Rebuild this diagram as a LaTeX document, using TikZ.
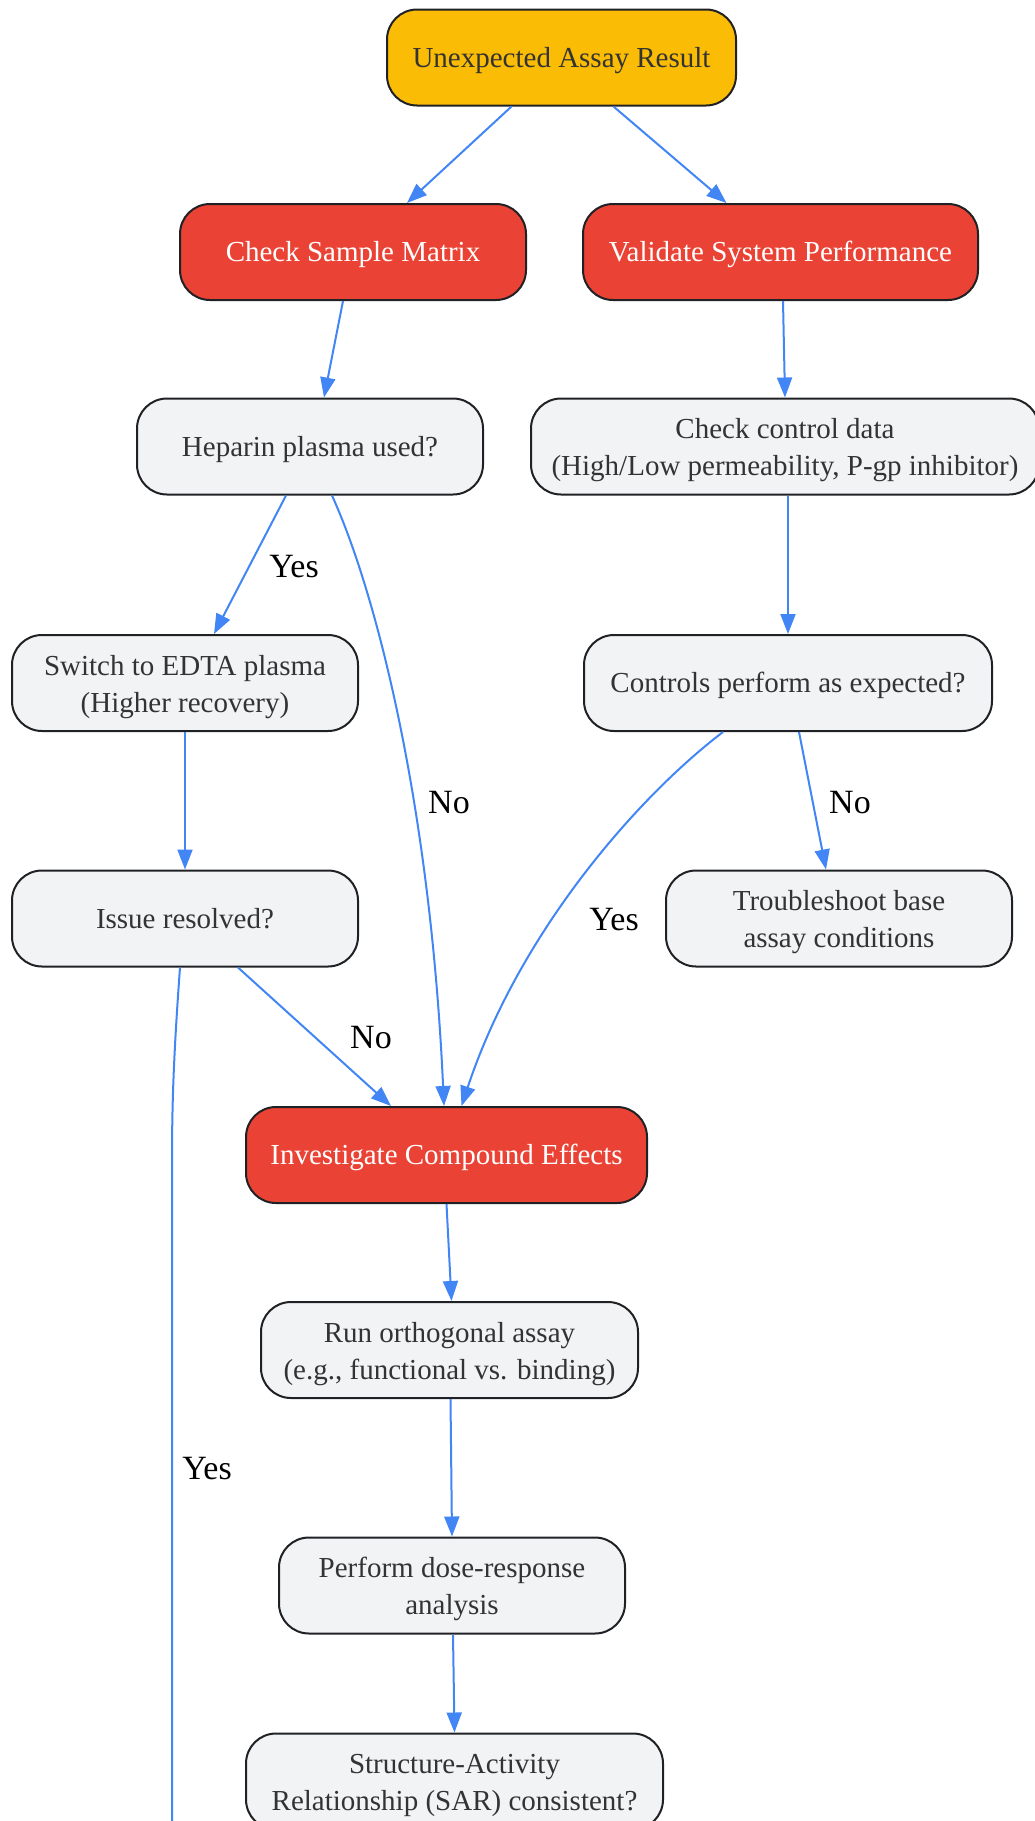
\documentclass[tikz,border=0pt]{standalone}
\usepackage{fontspec}
\setmainfont{Liberation Serif}
\usetikzlibrary{arrows.meta,positioning}
\definecolor{gyellow}{HTML}{FBBC05}
\definecolor{gred}{HTML}{EA4335}
\definecolor{ggrey}{HTML}{F1F3F4}
\definecolor{gblue}{HTML}{4285F4}
\definecolor{gline}{HTML}{202124}
\definecolor{gtext}{HTML}{333333}
\tikzset{
basebox/.style={
    rectangle,
    draw=gline,
    line width=2pt,
    rounded corners=30pt,
    minimum width=346pt,
    minimum height=96pt,
    align=center,
    font=\fontsize{29}{37}\selectfont,
    execute at begin node={\rule[-9pt]{0pt}{37pt}},
    execute at end node={\rule[-9pt]{0pt}{37pt}}
},
twoline/.style={
    text height=67pt,
    text depth=9pt
},
alertbox/.style={
    basebox,
    fill=gyellow,
    text=gtext
},
stagebox/.style={
    basebox,
    fill=gred,
    text=white
},
taskbox/.style={
    basebox,
    fill=ggrey,
    text=gtext
},
edgelabel/.style={
    font=\fontsize{34}{40}\selectfont,
    text=black,
    inner sep=0pt
},
connector/.style={
    draw=gblue,
    line width=2pt,
    -{Triangle[length=20pt,width=15pt]}
}
}

\begin{document}
\begin{tikzpicture}[x=1pt,y=-1pt]
\useasboundingbox (0,0) rectangle (1035,1821);

\node[alertbox, minimum width=349pt] (top) at (561.5,57.5) {Unexpected Assay Result};
\node[stagebox] (csm) at (353,252) {Check Sample Matrix};
\node[stagebox, minimum width=395pt] (vsp) at (780.5,252) {Validate System Performance};
\node[taskbox] (hep) at (310,446.5) {Heparin plasma used?};
\node[taskbox, twoline, minimum width=508pt] (ccd) at (785,446.5) {Check control data\\(High/Low permeability, P-gp inhibitor)};
\node[taskbox, twoline] (edta) at (185,683) {Switch to EDTA plasma\\(Higher recovery)};
\node[taskbox, minimum width=408pt] (ctl) at (788,683) {Controls perform as expected?};
\node[taskbox] (iss) at (185,918.5) {Issue resolved?};
\node[taskbox, twoline] (trb) at (839,918.5) {Troubleshoot base\\assay conditions};
\node[stagebox, minimum width=401pt] (ice) at (446.5,1155) {Investigate Compound Effects};
\node[taskbox, twoline, minimum width=377pt] (run) at (449.5,1350) {Run orthogonal assay\\(e.g., functional vs. binding)};
\node[taskbox, twoline] (dose) at (452,1585.5) {Perform dose-response\\analysis};
\node[taskbox, twoline, minimum width=417pt] (sar) at (454.5,1781.5) {Structure-Activity\\Relationship (SAR) consistent?};
\coordinate (offpage) at (172,1900);

% edge labels
\node[edgelabel] (yes1) at (294,567) {Yes};
\node[edgelabel] (no1) at (449,803) {No};
\node[edgelabel] (no2) at (850,803) {No};
\node[edgelabel] (yes2) at (614,920) {Yes};
\node[edgelabel] (no3) at (371,1038) {No};
\node[edgelabel] (yes3) at (207,1469) {Yes};

\path[connector] ([xshift=-50pt]top.south) -- ([xshift=54pt]csm.north);
\path[connector] ([xshift=52pt]top.south) -- ([xshift=-54pt]vsp.north);
\path[connector] ([xshift=-10pt]csm.south) -- ([xshift=14pt]hep.north);
\path[connector] ([xshift=2.5pt]vsp.south) -- (ccd.north);
\path[connector] ([xshift=-24pt]hep.south) -- ([xshift=29pt]edta.north);
\path[connector] ([xshift=22pt]hep.south) .. controls (375,590) and (430,800) .. ([xshift=-2.5pt]ice.north);
\path[connector] ([xshift=3pt]ccd.south) -- (ctl.north);
\path[connector] (edta.south) -- (iss.north);
\path[connector] ([xshift=11pt]ctl.south) -- ([xshift=-13pt]trb.north);
\path[connector] ([xshift=-65pt]ctl.south) .. controls (640,795) and (520,930) .. ([xshift=15pt]ice.north);
\path[connector] ([xshift=53pt]iss.south) -- ([xshift=-55.5pt]ice.north);
\path[draw=gblue, line width=2pt] ([xshift=-5pt]iss.south) .. controls (174,1050) and (172,1100) .. (172,1160) -- (offpage);
\path[connector] (ice.south) -- ([xshift=2pt]run.north);
\path[connector] ([xshift=1pt]run.south) -- (dose.north);
\path[connector] ([xshift=1pt]dose.south) -- (sar.north);

\end{tikzpicture}
\end{document}
